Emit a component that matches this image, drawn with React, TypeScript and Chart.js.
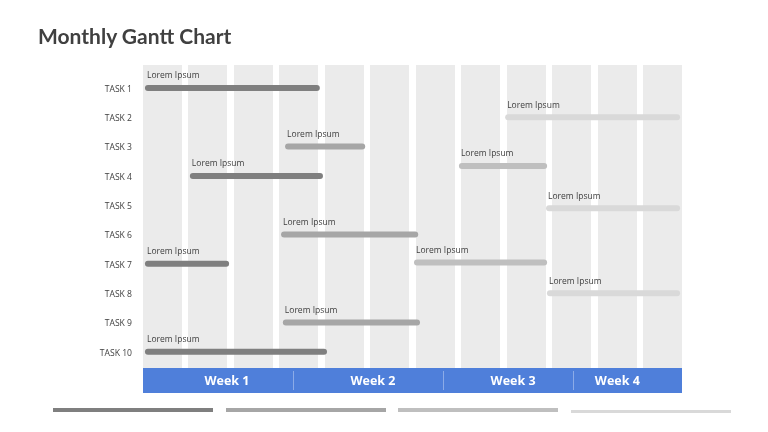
import React, { useEffect, useRef } from "react";
import { Chart, registerables } from "chart.js";

Chart.register(...registerables);

const TITLE = "Monthly Gantt Chart";
const TASKS = ["TASK 1", "TASK 2", "TASK 3", "TASK 4", "TASK 5", "TASK 6", "TASK 7", "TASK 8", "TASK 9", "TASK 10"];
const COLUMN_COUNT = 12;
const COLUMN_PITCH = 1.012; // column spacing in x units
const COLUMN_HALF = 0.434; // half of a column width in x units

// Gantt bars (x in column units, y in task rows)
const BAR_LABELS = ["Lorem Ipsum", "Lorem Ipsum", "Lorem Ipsum", "Lorem Ipsum", "Lorem Ipsum", "Lorem Ipsum", "Lorem Ipsum", "Lorem Ipsum", "Lorem Ipsum", "Lorem Ipsum", "Lorem Ipsum", "Lorem Ipsum"];
const BAR_START = [0.11, 8.13, 3.23, 7.1, 1.11, 9.04, 3.14, 0.11, 6.1, 9.06, 3.18, 0.11];
const BAR_END = [3.87, 11.89, 4.88, 8.93, 3.94, 11.89, 6.06, 1.85, 8.93, 11.89, 6.1, 4.03];
const BAR_ROW = [1, 2, 3, 3.66, 4, 5.1, 6, 7, 6.95, 8, 9, 10];
const BAR_SHADE = [0, 3, 1, 2, 0, 3, 1, 0, 2, 3, 1, 0];

const SHADES = ["#7f7f7f", "#a6a6a6", "#bfbfbf", "#d9d9d9"];

// Week band
const WEEKS = ["Week 1", "Week 2", "Week 3", "Week 4"];
const WEEK_DIVIDERS = [3.33, 6.67, 9.57];
const WEEK_LABEL_POS = [1.87, 5.12, 8.24, 10.56];

const FONT = "'Open Sans', 'Noto Sans', sans-serif";

const ganttPlugin = {
  id: "ganttDecor",
  afterDatasetsDraw(chart: any) {
    const { ctx, chartArea, scales } = chart;
    const xs = scales.x;
    const ys = scales.y;
    ctx.save();
    // bar labels
    ctx.font = `8.5px ${FONT}`;
    ctx.fillStyle = "#404040";
    ctx.textAlign = "left";
    ctx.textBaseline = "alphabetic";
    BAR_LABELS.forEach((lbl, i) => {
      const px = xs.getPixelForValue(BAR_START[i]);
      const py = ys.getPixelForValue(BAR_ROW[i]);
      ctx.fillText(lbl, px - 1, py - 9.5);
    });
    // week band
    const top = chartArea.bottom;
    const h = 25;
    ctx.fillStyle = "#4f7fda";
    ctx.fillRect(chartArea.left, top, chartArea.right - chartArea.left, h);
    ctx.strokeStyle = "rgba(255,255,255,0.35)";
    ctx.lineWidth = 1;
    WEEK_DIVIDERS.forEach((d) => {
      const px = Math.round(xs.getPixelForValue(d)) + 0.5;
      ctx.beginPath();
      ctx.moveTo(px, top + 3);
      ctx.lineTo(px, top + h - 3);
      ctx.stroke();
    });
    ctx.fillStyle = "#ffffff";
    ctx.font = `bold 12.5px ${FONT}`;
    ctx.textAlign = "center";
    ctx.textBaseline = "middle";
    WEEKS.forEach((w, i) => {
      ctx.fillText(w, xs.getPixelForValue(WEEK_LABEL_POS[i]), top + h / 2 + 0.5);
    });
    ctx.restore();
  },
};

function GanttChart() {
  const ref = useRef<HTMLCanvasElement>(null);
  useEffect(() => {
    if (!ref.current) return;
    const datasets = BAR_START.map((s, i) => ({
      data: [
        { x: s, y: BAR_ROW[i] },
        { x: BAR_END[i], y: BAR_ROW[i] },
      ],
      showLine: true,
      borderColor: SHADES[BAR_SHADE[i]],
      backgroundColor: SHADES[BAR_SHADE[i]],
      borderWidth: 6,
      borderCapStyle: "round" as const,
      pointRadius: 0,
      pointHoverRadius: 0,
    }));
    const chart = new Chart(ref.current, {
      type: "scatter",
      data: { datasets },
      options: {
        animation: false,
        responsive: false,
        layout: { padding: { top: 65, bottom: 64, right: 86, left: 83 } },
        plugins: { legend: { display: false }, tooltip: { enabled: false }, title: { display: false } },
        scales: {
          x: {
            type: "linear",
            min: 0,
            max: COLUMN_COUNT,
            afterBuildTicks: (scale: any) => {
              scale.ticks = Array.from({ length: COLUMN_COUNT }, (_, i) => ({ value: i * COLUMN_PITCH + COLUMN_HALF }));
            },
            ticks: { display: false },
            grid: { color: "#ebebeb", lineWidth: 39, drawTicks: false },
            border: { display: false },
          },
          y: {
            type: "linear",
            reverse: true,
            min: 0.22,
            max: 10.55,
            afterBuildTicks: (scale: any) => {
              scale.ticks = TASKS.map((_, i) => ({ value: i + 1 }));
            },
            afterFit: (scale: any) => {
              scale.width = 60;
            },
            ticks: {
              padding: 11,
              labelOffset: 1.5,
              color: "#404040",
              font: { family: FONT, size: 8.6 },
              callback: (v: any) => TASKS[Math.round(Number(v)) - 1] ?? "",
            },
            grid: { display: false, drawTicks: false },
            border: { display: false },
          },
        },
      },
      plugins: [ganttPlugin],
    });
    return () => chart.destroy();
  }, []);
  return <canvas ref={ref} width={768} height={432} style={{ position: "absolute", left: 0, top: 0 }} />;
}

export default function App() {
  return (
    <div style={{ position: "fixed", left: 0, top: 0, width: 768, height: 432, background: "#fff", overflow: "hidden" }}>
      <GanttChart />
      <div
        style={{
          position: "absolute",
          left: 38,
          top: 23,
          fontFamily: "Lato, 'Open Sans', sans-serif",
          fontWeight: 700,
          fontSize: 21,
          color: "#404040",
          lineHeight: "26px",
          whiteSpace: "nowrap",
        }}
      >
        {TITLE}
      </div>
      {SHADES.map((c, i) => (
        <div
          key={i}
          style={{
            position: "absolute",
            left: 53 + i * 172.7,
            top: i === 3 ? 409.5 : 408,
            width: 160,
            height: i === 3 ? 3 : 4,
            background: c,
          }}
        />
      ))}
    </div>
  );
}
